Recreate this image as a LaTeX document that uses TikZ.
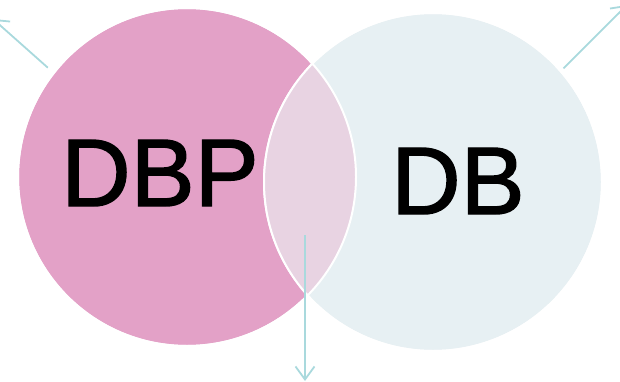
\documentclass[tikz,border=0pt]{standalone}
\usepackage{fontspec}
\setmainfont{Liberation Sans}
\newfontface\setfont{Liberation Sans}[RawFeature={embolden=1.5}]
\usetikzlibrary{arrows.meta, positioning}

\definecolor{dbpPink}{HTML}{E3A1C7}
\definecolor{dbBlue}{HTML}{E7F0F3}
\definecolor{overlapPink}{HTML}{E8D3E2}
\definecolor{linkTeal}{HTML}{A9D9DD}

\begin{document}
\begin{tikzpicture}[
        x=1pt, y=-1pt,
        setNode/.style={
            circle, minimum size=338pt, inner sep=0pt,
            draw=white, line width=2pt
        },
        setLabel/.style={
            inner sep=0pt, font=\setfont\fontsize{96}{96}\selectfont
        },
        link/.style={
            draw=linkTeal, line width=1.8pt,
            -{Straight Barb[length=13pt, width=19pt]}
        }
    ]
        \useasboundingbox (0,0) rectangle (620,382);

        % Sets
        \node (dbp) [setNode, fill=dbpPink] at (187,177) {};
        \node (db) [setNode, fill=dbBlue] at (433,182) {};

        % Overlap
        \begin{scope}
            \clip (dbp.center) circle (169pt);
            \fill [overlapPink] (db.center) circle (169pt);
        \end{scope}
        \draw [white, line width=2pt] (dbp.center) circle (169pt) (db.center) circle (169pt);

        % Labels
        \node (dbpText) [setLabel] at (160,173) {DBP};
        \node (dbText) [setLabel] at (458,181) {DB};

        % Connectors
        \coordinate (tlEnd) at (-7,19);
        \coordinate (trEnd) at (627,5);
        \coordinate (midStart) at (305,235);
        \coordinate (bottomEnd) at (305,381);

        \draw [link, shorten <=7pt] (dbp.142) -- (tlEnd);
        \draw [link, shorten <=3pt] (db.41) -- (trEnd);
        \draw [link] (midStart) -- (bottomEnd);
    \end{tikzpicture}
\end{document}
